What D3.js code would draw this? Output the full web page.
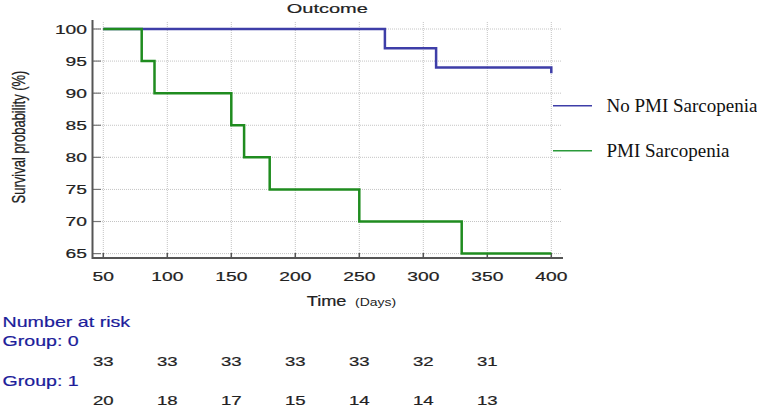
<!DOCTYPE html>
<html><head><meta charset="utf-8">
<script src="https://cdn.jsdelivr.net/npm/d3@7"></script>
<style>body{margin:0;background:#fff}svg{display:block}text{font-family:"Liberation Sans",Arial,sans-serif}
.sans{stroke:currentColor;stroke-width:0.2px}</style>
</head><body>
<script>
// ---- data ----
const xTicks = [50,100,150,200,250,300,350,400];
const yTicks = [65,70,75,80,85,90,95,100];
const noPmiTimes = [50,270,310,400];
const noPmiSurv  = [100,97,94,93.1];
const pmiTimes = [50,80,90,150,160,180,250,330,400];
const pmiSurv  = [100,95,90,85,80,75,70,65,65];
const riskTimes = [50,100,150,200,250,300,350];
const riskGroup0 = [33,33,33,33,33,32,31];
const riskGroup1 = [20,18,17,15,14,14,13];
const seriesNames = ["No PMI Sarcopenia","PMI Sarcopenia"];

const W=757,H=408;
const svg=d3.select("body").append("svg").attr("width",W).attr("height",H);
const x=d3.scaleLinear().domain([50,400]).range([103.3,551.3]);
const y=d3.scaleLinear().domain([65,100]).range([253.6,29]);
const blue="#3e3ea8", green="#1f8c1f";
const SX=1.48;
const txt="#222";

// grid
const g=svg.append("g");
g.selectAll(".vg").data(xTicks).join("line").attr("x1",d=>x(d)).attr("x2",d=>x(d))
 .attr("y1",22).attr("y2",257).attr("stroke","#c4c4c4").attr("stroke-width",1).attr("stroke-dasharray","1,1");
g.selectAll(".hg").data(yTicks).join("line").attr("y1",d=>y(d)).attr("y2",d=>y(d))
 .attr("x1",94).attr("x2",561).attr("stroke","#c4c4c4").attr("stroke-width",1).attr("stroke-dasharray","1,1");

// tick marks
g.selectAll(".yt").data(yTicks).join("line").attr("y1",d=>y(d)).attr("y2",d=>y(d))
 .attr("x1",93).attr("x2",101).attr("stroke","#777").attr("stroke-width",1.2);
g.selectAll(".xt").data(xTicks).join("line").attr("x1",d=>x(d)).attr("x2",d=>x(d))
 .attr("y1",258).attr("y2",253).attr("stroke","#555").attr("stroke-width",1.5);

// axes lines
svg.append("line").attr("x1",92.5).attr("x2",92.5).attr("y1",20).attr("y2",259).attr("stroke","#555").attr("stroke-width",2);
svg.append("line").attr("x1",92).attr("x2",563).attr("y1",258).attr("y2",258).attr("stroke","#555").attr("stroke-width",2);

// tick labels
svg.selectAll(".yl").data(yTicks).join("text").attr("class","sans").style("color",txt)
 .attr("transform",d=>`translate(87,${y(d)+4.7}) scale(${SX},1)`)
 .attr("text-anchor","end").attr("font-size",13).attr("fill",txt).text(d=>d);
svg.selectAll(".xl").data(xTicks).join("text").attr("class","sans").style("color",txt)
 .attr("transform",d=>`translate(${x(d)},281) scale(${SX},1)`)
 .attr("text-anchor","middle").attr("font-size",13).attr("fill",txt).text(d=>d);

// title & labels
svg.append("text").attr("class","sans").style("color",txt).attr("transform",`translate(327.3,13) scale(1.54,1)`).attr("text-anchor","middle")
 .attr("font-size",13).attr("fill",txt).text("Outcome");
svg.append("text").attr("class","sans").style("color",txt).attr("transform",`translate(18,137) scale(1.45,1) rotate(-90)`).attr("text-anchor","middle")
 .attr("dy","0.35em").attr("font-size",13).attr("fill",txt).text("Survival probability (%)");
svg.append("text").attr("class","sans").style("color",txt).attr("transform",`translate(306.7,305.5) scale(1.3,1)`).attr("font-size",14).attr("fill",txt).text("Time");
svg.append("text").attr("transform",`translate(355,305.5) scale(1.27,1)`).attr("font-size",11).attr("fill",txt).text("(Days)");

// curves
const line=d3.line().x(d=>x(d[0])).y(d=>y(d[1])).curve(d3.curveStepAfter);
svg.append("path").datum(noPmiTimes.map((t,i)=>[t,noPmiSurv[i]])).attr("d",line)
 .attr("fill","none").attr("stroke",blue).attr("stroke-width",2.5);
svg.append("path").datum(pmiTimes.map((t,i)=>[t,pmiSurv[i]])).attr("d",line)
 .attr("fill","none").attr("stroke",green).attr("stroke-width",2.5);

// legend
const leg=[{n:seriesNames[0],c:blue,y:105.7},{n:seriesNames[1],c:"#2a9a3a",y:150.7}];
leg.forEach(l=>{
 svg.append("line").attr("x1",553).attr("x2",592).attr("y1",l.y).attr("y2",l.y).attr("stroke",l.c).attr("stroke-width",1.5);
 svg.append("text").attr("x",606.5).attr("y",l.y+6)
  .style("font-family","'Liberation Serif','Times New Roman',serif")
  .attr("font-size",19).attr("fill","#111").text(l.n);
});

// number at risk
const rk="#1c1c9a";
svg.append("text").attr("class","sans").style("color",rk).attr("transform","translate(2.5,326.5) scale(1.31,1)").attr("font-size",15).attr("fill",rk).text("Number at risk");
svg.append("text").attr("class","sans").style("color",rk).attr("transform","translate(2.5,346) scale(1.4,1)").attr("font-size",14).attr("fill",rk).text("Group: 0");
svg.append("text").attr("class","sans").style("color",rk).attr("transform","translate(2.5,385.5) scale(1.4,1)").attr("font-size",14).attr("fill",rk).text("Group: 1");
svg.selectAll(".r0").data(riskGroup0).join("text").attr("class","sans").style("color",txt)
 .attr("transform",(d,i)=>`translate(${x(riskTimes[i])},366) scale(1.43,1)`).attr("text-anchor","middle")
 .attr("font-size",13).attr("fill",txt).text(d=>d);
svg.selectAll(".r1").data(riskGroup1).join("text").attr("class","sans").style("color",txt)
 .attr("transform",(d,i)=>`translate(${x(riskTimes[i])},405) scale(1.43,1)`).attr("text-anchor","middle")
 .attr("font-size",13).attr("fill",txt).text(d=>d);
</script>
</body></html>
